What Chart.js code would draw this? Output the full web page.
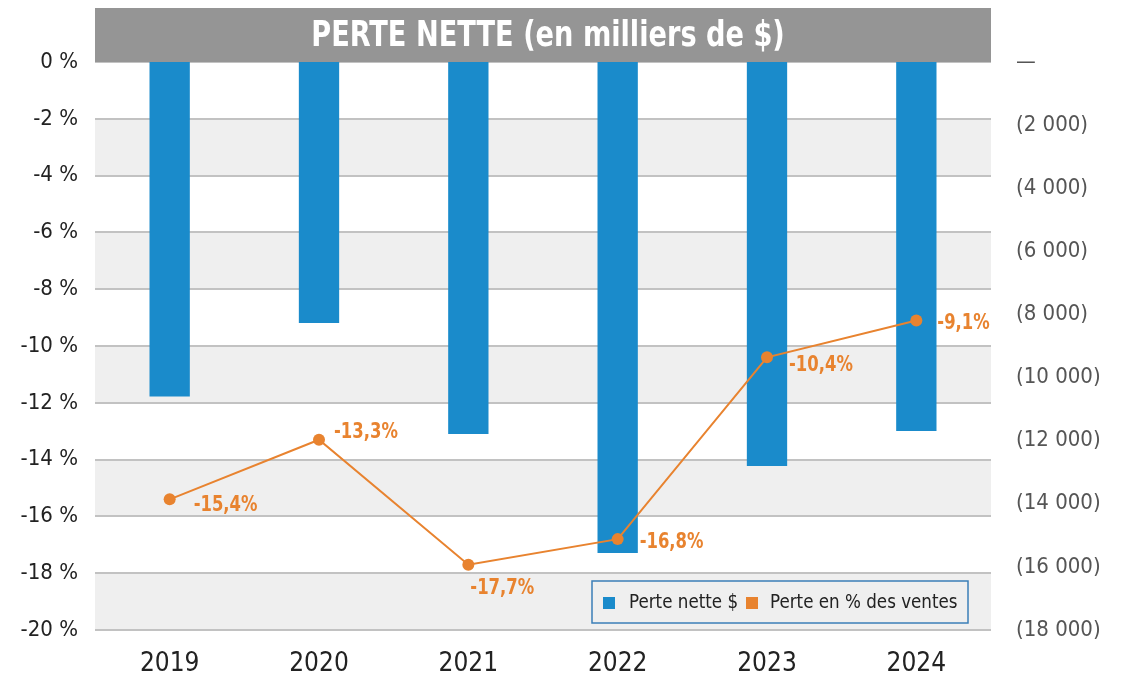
<!DOCTYPE html>
<html lang="fr">
<head>
<meta charset="utf-8">
<script src="https://cdn.jsdelivr.net/npm/chart.js@4.4.1/dist/chart.umd.min.js"></script>
<style>
  html, body { margin: 0; padding: 0; background: #fff; }
  #wrap { width: 1127px; height: 677px; position: relative; }
</style>
</head>
<body>
<div id="wrap"><canvas id="perte"></canvas></div>
<script>
/* Perte nette (en milliers de $) — barres + % des ventes en ligne */

const titre = 'PERTE NETTE (en milliers de $)';
const annees = ['2019', '2020', '2021', '2022', '2023', '2024'];
const perteNette = [-10600, -8270, -11790, -15560, -12800, -11690];   // milliers de $
const pertePct = [-15.4, -13.3, -17.7, -16.8, -10.4, -9.1];          // % des ventes
const pctTicks = [0, -2, -4, -6, -8, -10, -12, -14, -16, -18, -20];
const dollarTicks = [0, -2000, -4000, -6000, -8000, -10000, -12000, -14000, -16000, -18000];

// décalage des étiquettes de la ligne (dx, dy) par rapport au point
const labelOffsets = [[24, 6], [15, -7], [2, 24], [22, 3], [22, 8], [21, 3]];

const FONT = "'Liberation Sans Narrow', 'DejaVu Sans Condensed', 'Roboto', sans-serif";
const BLUE = '#1a8bcb';
const ORANGE = '#e8832f';
const BAND = '#efefef';
const GRID = '#c2c2c2';

const fmtMilliers = v => {
  if (v === 0) return '\u2014';
  const s = Math.abs(v).toString().replace(/\B(?=(\d{3})+(?!\d))/g, ' ');
  return '(' + s + ')';
};
const fmtPct = v => v.toFixed(1).replace('.', ',') + '%';

const bandsPlugin = {
  id: 'bands',
  beforeDraw(chart){
    const { ctx, chartArea: a, scales: { y } } = chart;
    ctx.save();
    ctx.fillStyle = BAND;
    for (let i = 1; i < pctTicks.length - 1; i += 2){
      const top = y.getPixelForValue(pctTicks[i]);
      const bot = y.getPixelForValue(pctTicks[i + 1]);
      ctx.fillRect(a.left, top, a.right - a.left, bot - top);
    }
    ctx.restore();
  }
};

// texte condensé : police plus haute, compressée horizontalement
function condensedText(ctx, text, x, y, sx){
  ctx.save();
  ctx.translate(x, y);
  ctx.scale(sx, 1);
  ctx.fillText(text, 0, 0);
  ctx.restore();
}

const labelsPlugin = {
  id: 'pctLabels',
  afterDatasetsDraw(chart){
    const { ctx } = chart;
    const meta = chart.getDatasetMeta(1);
    ctx.save();
    ctx.font = `bold 21px ${FONT}`;
    ctx.fillStyle = ORANGE;
    ctx.textAlign = 'left';
    ctx.textBaseline = 'middle';
    meta.data.forEach((pt, i) => {
      const [dx, dy] = labelOffsets[i];
      condensedText(ctx, fmtPct(pertePct[i]), pt.x + dx, pt.y + dy, 0.87);
    });
    ctx.restore();
  }
};

const bannerLegendPlugin = {
  id: 'bannerLegend',
  afterDraw(chart){
    const { ctx, chartArea: a } = chart;
    ctx.save();
    // bandeau titre
    ctx.fillStyle = '#959595';
    ctx.fillRect(a.left, 8, a.right - a.left, a.top - 8);
    ctx.fillStyle = '#fff';
    ctx.font = `bold 36px ${FONT}`;
    ctx.textAlign = 'center';
    ctx.textBaseline = 'middle';
    condensedText(ctx, titre, (a.left + a.right) / 2 + 5, 37, 0.84);

    // légende encadrée
    const lx = 592, ly = 581, lw = 376, lh = 42;
    ctx.fillStyle = BAND;
    ctx.fillRect(lx, ly, lw, lh);
    ctx.strokeStyle = '#3b7fb8';
    ctx.lineWidth = 1.5;
    ctx.strokeRect(lx, ly, lw, lh);
    ctx.font = `20px ${FONT}`;
    ctx.textAlign = 'left';
    ctx.fillStyle = BLUE;
    ctx.fillRect(603, 597, 12, 12);
    ctx.fillStyle = '#222';
    condensedText(ctx, chart.data.datasets[0].label, 629, 603, 0.93);
    ctx.fillStyle = ORANGE;
    ctx.fillRect(746, 597, 12, 12);
    ctx.fillStyle = '#222';
    condensedText(ctx, chart.data.datasets[1].label, 770, 603, 0.93);
    ctx.restore();
  }
};

new Chart(document.getElementById('perte'), {
  data: {
    labels: annees,
    datasets: [
      {
        type: 'bar', label: 'Perte nette $', data: perteNette, yAxisID: 'y1',
        backgroundColor: BLUE, barPercentage: 0.27, categoryPercentage: 1, order: 2
      },
      {
        type: 'line', label: 'Perte en % des ventes', data: pertePct, yAxisID: 'y',
        borderColor: ORANGE, backgroundColor: ORANGE, borderWidth: 2,
        pointRadius: 6, pointBackgroundColor: ORANGE, pointBorderWidth: 0,
        tension: 0, order: 1
      }
    ]
  },
  options: {
    responsive: true, maintainAspectRatio: false, animation: false,
    layout: { padding: { top: 62, left: 0, right: 0, bottom: 0 } },
    plugins: { legend: { display: false }, tooltip: { enabled: false } },
    scales: {
      x: {
        grid: { display: false }, border: { display: false },
        ticks: { color: '#222', padding: 11, font: { family: FONT, size: 26 } },
        afterFit(s){ s.height = 47; }
      },
      y: {
        position: 'left', min: -20, max: 0,
        afterBuildTicks(s){ s.ticks = pctTicks.map(v => ({ value: v })); },
        grid: { color: GRID, lineWidth: 2, drawTicks: false }, border: { display: false },
        ticks: { color: '#222', padding: 17, font: { family: FONT, size: 22 }, callback: v => v + ' %' },
        afterFit(s){ s.width = 95; }
      },
      y1: {
        position: 'right', min: -18000, max: 0,
        afterBuildTicks(s){ s.ticks = dollarTicks.map(v => ({ value: v })); },
        grid: { display: false, drawTicks: false }, border: { display: false },
        ticks: { color: '#555', padding: 25, font: { family: FONT, size: 22 }, callback: fmtMilliers },
        afterFit(s){ s.width = 136; }
      }
    }
  },
  plugins: [bandsPlugin, labelsPlugin, bannerLegendPlugin]
});
</script>
</body>
</html>
